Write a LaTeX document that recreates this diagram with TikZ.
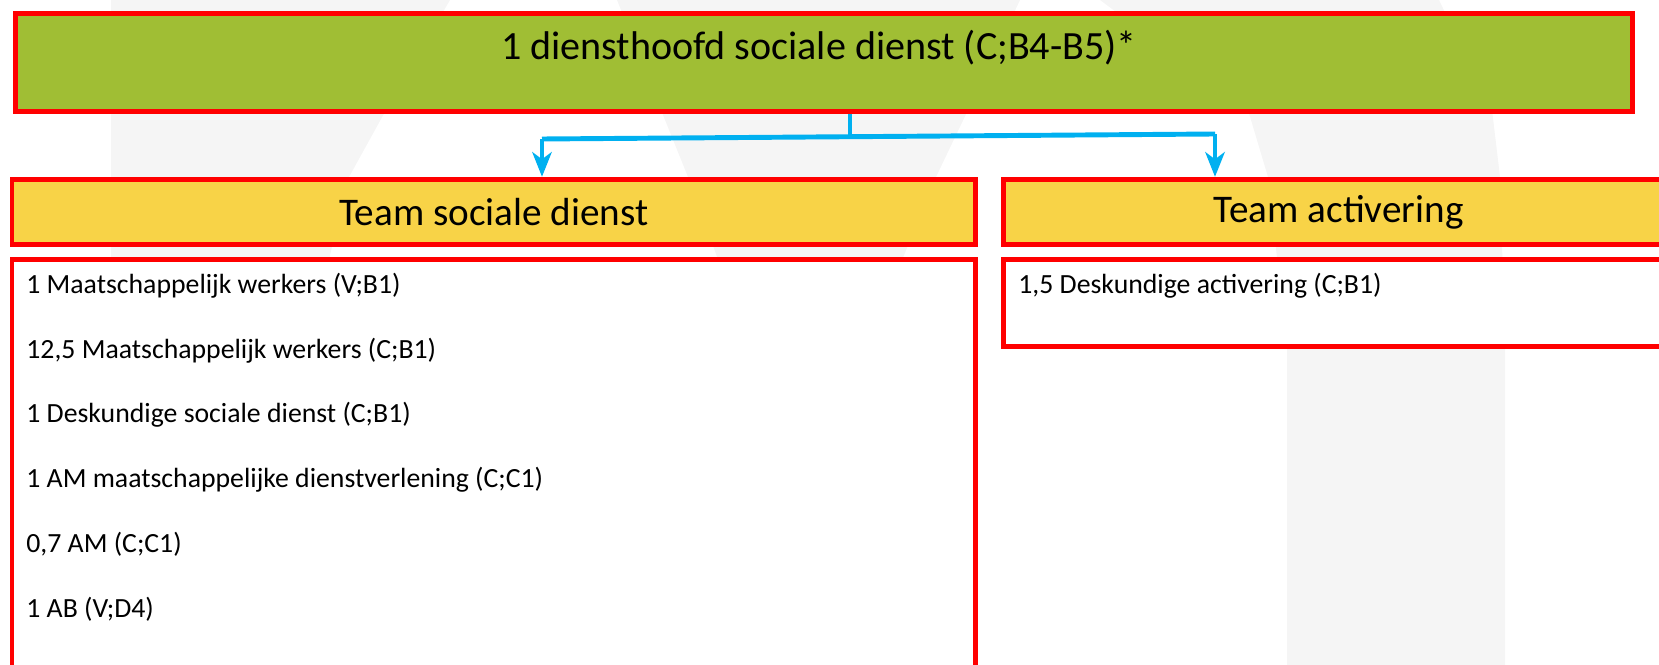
\documentclass[tikz,border=0pt]{standalone}
\usepackage{fontspec}
\setmainfont{Carlito}
\usetikzlibrary{calc}
\usetikzlibrary{arrows.meta}
\definecolor{kopgroen}{HTML}{A0BE34}
\definecolor{teamgeel}{HTML}{F8D347}
\definecolor{randrood}{HTML}{FF0000}
\definecolor{pijlblauw}{HTML}{00B0F0}
\definecolor{watermerk}{HTML}{F5F5F5}

\begin{document}
\begin{tikzpicture}[x=0.02cm, y=-0.02cm,
    box/.style={draw=randrood, line width=2.8pt, inner sep=0pt, anchor=north west},
    kop/.style={font=\fontsize{22.3}{26}\selectfont},
    item/.style={font=\fontsize{15.8}{19}\selectfont, anchor=west, inner sep=0pt},
    lijn/.style={draw=pijlblauw, line width=2.8pt},
    pijl/.style={lijn, -{Stealth[length=14pt, width=11pt, inset=4pt]}}]
\clip (0,0) rectangle (1659,665);
\fill[watermerk] (111,0) -- (450,0) -- (386,110) -- (349,177) -- (330,255) -- (330,665) -- (111,665) -- cycle;
\fill[watermerk] (617,0) -- (1020,0) -- (968,110) -- (936,177) -- (900,265) -- (720,265) -- (688,177) -- (661,110) -- cycle;
\fill[watermerk] (1100,0) -- (1439,0) -- (1492,110) -- (1500,177) -- (1505,347) -- (1505,665) -- (1287,665) -- (1287,347) -- (1268,177) -- (1248,110) -- cycle;
\node[box, fill=kopgroen, minimum width=32.34cm, minimum height=1.968cm] (hoofd) at (13.2,10.8) {};
\node[kop, font=\fontsize{22.8}{27}\selectfont] (hoofdtekst) at (819,48) {1 diensthoofd sociale dienst (C;B4-B5)*};
\node[box, fill=teamgeel, minimum width=19.28cm, minimum height=1.314cm, kop] (teamsd) at (9.5,176.8) {Team sociale dienst};
\node[box, fill=teamgeel, minimum width=13.4cm, minimum height=1.314cm, kop] (teamact) at (1001.2,176.8) {Team activering};
\node[box, fill=white, minimum width=19.28cm, minimum height=8.85cm] (lijstsd) at (9.5,257.5) {};
\node[box, fill=white, minimum width=13.4cm, minimum height=1.74cm] (lijstact) at (1001.2,257.5) {};
\foreach \tekst [count=\i] in {{1 Maatschappelijk werkers (V;B1)}, {12,5 Maatschappelijk werkers (C;B1)},
    {1 Deskundige sociale dienst (C;B1)}, {1 AM maatschappelijke dienstverlening (C;C1)},
    {0,7 AM (C;C1)}, {1 AB (V;D4)}}
  \node[item] (sd\i) at (26, {285.7+64.7*(\i-1)}) {\tekst};
\node[item] (act1) at (1018,285.7) {1,5 Deskundige activering (C;B1)};
\coordinate (splits) at (850,136.7);
\coordinate (links) at (542,139);
\coordinate (rechts) at (1215,134);
\draw[lijn] (hoofd.south -| splits) -- (splits);
\draw[lijn] (links) -- (rechts);
\draw[pijl] (links) -- (links |- teamsd.north);
\draw[pijl] (rechts) -- (rechts |- teamact.north);
\end{tikzpicture}
\end{document}
